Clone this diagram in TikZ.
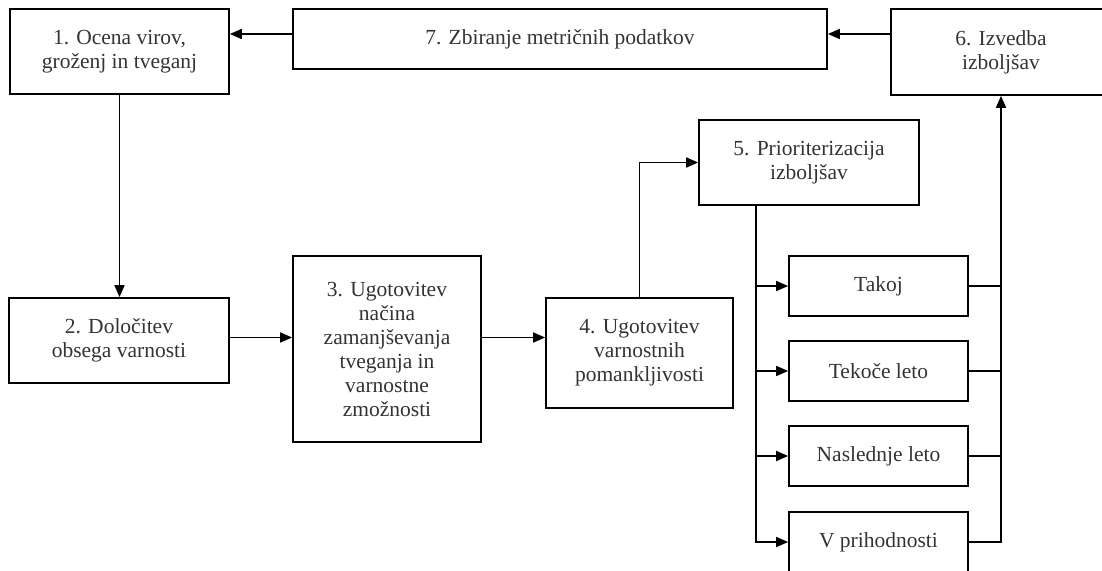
\documentclass[tikz,border=0pt]{standalone}
\usepackage{fontspec}
\setmainfont{Liberation Serif}
\usetikzlibrary{arrows.meta}

\begin{document}
\begin{tikzpicture}[x=1pt, y=-1pt,
      every node/.style = {shape=rectangle, draw, line width=1.7pt,
        align=center, inner sep=0pt, text=black!80,
        font=\fontsize{21.5}{24}\selectfont},
      korak/.style = {minimum width=#1},
      arr/.style = {line width=1.7pt, -{Triangle[length=12pt,width=10pt]}},
      lin/.style = {line width=1.7pt}]
  \useasboundingbox (0,0) rectangle (1102,570);
  % zgornja vrsta
  \node[korak=219pt, minimum height=85pt] (ocena) at (119.5,51.5)
    {1. Ocena virov,\\ groženj in tveganj};
  \node[korak=534pt, minimum height=60pt] (zbiranje) at (560,39)
    {7. Zbiranje metričnih podatkov};
  \node[korak=220pt, minimum height=86pt] (izvedba) at (1001,52)
    {6. Izvedba\\ izboljšav};
  % spodnja vrsta
  \node[korak=220pt, minimum height=85pt] (doloc) at (119,340.5)
    {2. Določitev\\ obsega varnosti};
  \node[korak=188pt, minimum height=186pt] (nacin) at (387,349)
    {3. Ugotovitev\\ načina\\ zamanjševanja\\ tveganja in\\ varnostne\\ zmožnosti};
  \node[korak=187pt, minimum height=110pt] (pomank) at (639.5,353)
    {4. Ugotovitev\\ varnostnih\\ pomankljivosti};
  \node[korak=220pt, minimum height=85pt] (prior) at (809,162.5)
    {5. Prioriterizacija\\ izboljšav};
  % roki
  \node[korak=179pt, minimum height=60pt] (takoj) at (878.5,286) {Takoj};
  \node[korak=179pt, minimum height=60pt] (tekoce) at (878.5,371) {Tekoče leto};
  \node[korak=179pt, minimum height=60pt] (nasled) at (878.5,456) {Naslednje leto};
  \node[korak=179pt, minimum height=60pt] (prihod) at (878.5,542) {V prihodnosti};

  \coordinate (deblo) at ([xshift=58pt]prior.south west);

  \draw[arr] ([yshift=5pt]zbiranje.west) -- ([yshift=5pt]zbiranje.west -| ocena.east);
  \draw[arr] ([yshift=5pt]zbiranje.east -| izvedba.west) -- ([yshift=5pt]zbiranje.east);
  \draw[arr] (ocena.south) -- (ocena.south |- doloc.north);
  \draw[arr] ([yshift=3pt]doloc.east) -- ([yshift=3pt]doloc.east -| nacin.west);
  \draw[arr] ([yshift=3pt]doloc.east -| nacin.east) -- ([yshift=3pt]doloc.east -| pomank.west);
  \draw[arr] (pomank.north) |- (prior.west);
  \draw[arr] (deblo) |- (prihod.west);
  \foreach \n in {takoj,tekoce,nasled}
    \draw[arr] (deblo |- \n.west) -- (\n.west);
  \draw[arr] (prihod.east) -| (izvedba.south);
  \foreach \n in {takoj,tekoce,nasled}
    \draw[lin] (\n.east) -- (\n.east -| izvedba.south);
\end{tikzpicture}
\end{document}
